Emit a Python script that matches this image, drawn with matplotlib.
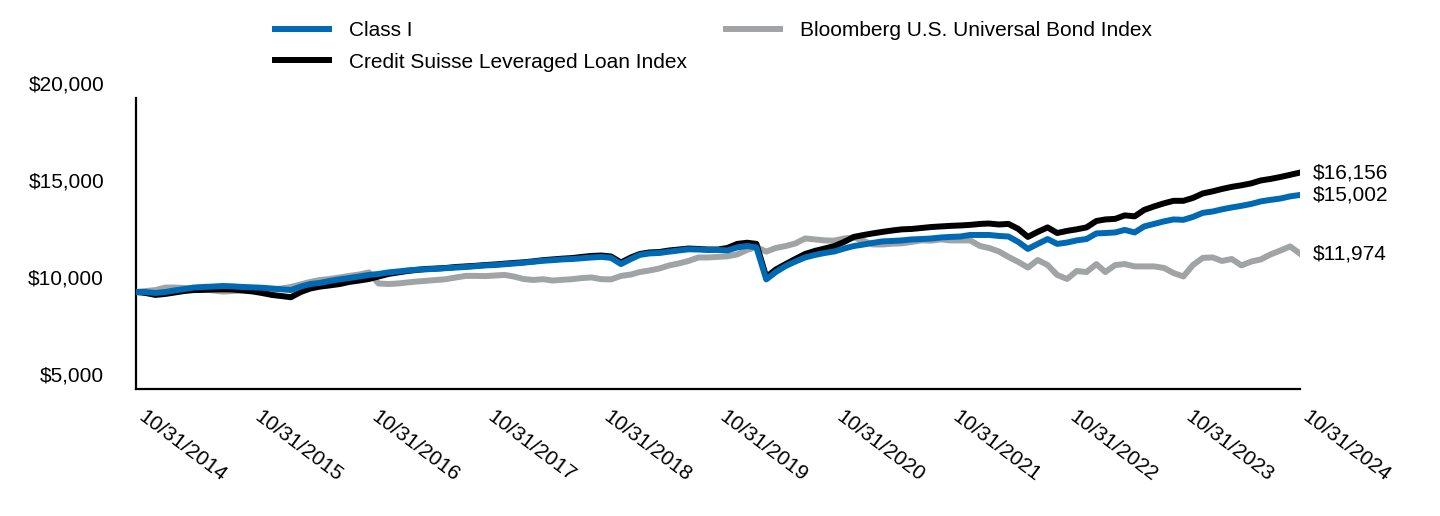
import matplotlib
matplotlib.use("Agg")
import matplotlib.pyplot as plt
import matplotlib.transforms as mtransforms
import pandas as pd

plt.rcParams['font.family'] = ['Liberation Sans', 'DejaVu Sans']

# month-end dates, 10/31/2014 .. 10/31/2024
dates = pd.date_range('2014-10-31', '2024-10-31', freq='ME')

class_i = [
    10000, 10000, 9950, 10000, 10080, 10150, 10230, 10260, 10280, 10310, 10290, 10260,
    10240, 10220, 10180, 10140, 10100, 10280, 10410, 10470, 10570, 10650, 10720, 10800,
    10880, 10930, 11010, 11060, 11110, 11150, 11170, 11200, 11230, 11260, 11290, 11330,
    11370, 11390, 11430, 11470, 11510, 11560, 11610, 11640, 11680, 11700, 11740, 11780,
    11810, 11760, 11440, 11700, 11910, 11990, 12010, 12080, 12140, 12200, 12190, 12170,
    12170, 12140, 12300, 12370, 12300, 10650, 11030, 11340, 11570, 11780, 11910, 12010,
    12090, 12240, 12370, 12450, 12530, 12610, 12630, 12660, 12710, 12730, 12760, 12810,
    12840, 12860, 12940, 12940, 12940, 12890, 12860, 12580, 12220, 12480, 12730, 12480,
    12550, 12660, 12730, 13020, 13040, 13070, 13200, 13070, 13380, 13510, 13640, 13740,
    13720, 13870, 14080, 14150, 14260, 14360, 14440, 14540, 14670, 14750, 14820, 14930,
    15002,
]

credit_suisse = [
    10000, 9950, 9850, 9900, 9970, 10050, 10100, 10110, 10130, 10140, 10130, 10080,
    10030, 9950, 9850, 9790, 9730, 10000, 10180, 10280, 10340, 10410, 10520, 10590,
    10670, 10800, 10930, 11010, 11080, 11140, 11190, 11210, 11240, 11290, 11320, 11350,
    11390, 11420, 11460, 11500, 11530, 11580, 11640, 11680, 11720, 11750, 11810, 11860,
    11880, 11830, 11520, 11780, 11960, 12040, 12060, 12140, 12190, 12240, 12220, 12190,
    12190, 12270, 12480, 12540, 12480, 10770, 11160, 11440, 11700, 11960, 12120, 12240,
    12370, 12580, 12840, 12940, 13020, 13100, 13170, 13230, 13250, 13300, 13350, 13380,
    13410, 13430, 13460, 13510, 13530, 13480, 13510, 13250, 12840, 13100, 13330, 13040,
    13150, 13230, 13330, 13660, 13740, 13770, 13950, 13900, 14230, 14410, 14570, 14700,
    14700, 14850, 15080, 15190, 15310, 15420, 15500, 15600, 15750, 15830, 15930, 16040,
    16156,
]

bloomberg = [
    10000, 10050, 10100, 10230, 10230, 10210, 10150, 10130, 10080, 10020, 10050, 10080,
    10080, 10100, 10130, 10180, 10260, 10390, 10520, 10620, 10670, 10750, 10830, 10900,
    11010, 10440, 10410, 10440, 10490, 10540, 10580, 10620, 10660, 10750, 10830, 10830,
    10820, 10850, 10880, 10790, 10670, 10620, 10660, 10590, 10630, 10660, 10720, 10750,
    10660, 10650, 10830, 10900, 11030, 11110, 11210, 11370, 11470, 11600, 11780, 11780,
    11810, 11840, 11940, 12170, 12320, 12080, 12270, 12370, 12500, 12760, 12710, 12660,
    12650, 12760, 12810, 12630, 12450, 12450, 12490, 12510, 12580, 12660, 12650, 12710,
    12660, 12660, 12660, 12370, 12270, 12090, 11810, 11550, 11260, 11650, 11390, 10880,
    10670, 11080, 11030, 11440, 11030, 11390, 11440, 11320, 11320, 11320, 11240, 10980,
    10800, 11390, 11760, 11780, 11600, 11700, 11370, 11570, 11680, 11940, 12140, 12350,
    11974,
]

series_names = ['Class I', 'Credit Suisse Leveraged Loan Index', 'Bloomberg U.S. Universal Bond Index']
y_ticks = [5000, 10000, 15000, 20000]
tick_dates = pd.date_range('2014-10-31', '2024-10-31', freq='12ME')

BLUE = '#0069B4'
GRAY = '#A0A4A5'
LW = 4.3

fig = plt.figure(figsize=(14.4, 5.16), dpi=100)
ax = fig.add_axes([136 / 1440, 1 - 389 / 516, (1300 - 136) / 1440, (389 - 98) / 516])

ax.plot(dates, bloomberg, color=GRAY, lw=LW, label=series_names[2], zorder=2)
ax.plot(dates, credit_suisse, color='black', lw=LW, label=series_names[1], zorder=3)
ax.plot(dates, class_i, color=BLUE, lw=LW, label=series_names[0], zorder=4)

ax.set_xlim(dates[0], dates[-1])
ax.set_ylim(5000, 20000)

for side in ['top', 'right']:
    ax.spines[side].set_visible(False)
for side in ['left', 'bottom']:
    ax.spines[side].set_linewidth(1.6)
    ax.spines[side].set_color('black')

ax.set_yticks(y_ticks)
ax.set_yticklabels([f'${v:,.0f}' for v in y_ticks])
ax.tick_params(axis='y', length=0, pad=23, labelsize=15)
shift_up = mtransforms.ScaledTranslation(0, 15 / 100, fig.dpi_scale_trans)
for lab in ax.get_yticklabels():
    lab.set_transform(lab.get_transform() + shift_up)

ax.set_xticks(tick_dates)
ax.set_xticklabels([d.strftime('%m/%d/%Y') for d in tick_dates],
                   rotation=-37, ha='left', va='top', rotation_mode='anchor')
ax.tick_params(axis='x', length=0, pad=13, labelsize=15)
shift_right = mtransforms.ScaledTranslation(10 / 100, 0, fig.dpi_scale_trans)
for lab in ax.get_xticklabels():
    lab.set_transform(lab.get_transform() + shift_right)

# ending values
for vals in (credit_suisse, class_i, bloomberg):
    ax.annotate(f'${vals[-1]:,.0f}', xy=(dates[-1], vals[-1]), xytext=(9, 0),
                textcoords='offset points', va='center', ha='left', fontsize=15,
                annotation_clip=False)

handles, labels = ax.get_legend_handles_labels()
order = [2, 1, 0]
fig.legend([handles[i] for i in order], [labels[i] for i in order],
           loc='upper left', bbox_to_anchor=(275 / 1440, 1 - 21 / 516),
           ncol=2, frameon=False, fontsize=15, handlelength=2.6,
           handletextpad=0.96, columnspacing=1.87, labelspacing=0.6,
           borderpad=0, borderaxespad=0)

fig.savefig('out.png', dpi=100)
